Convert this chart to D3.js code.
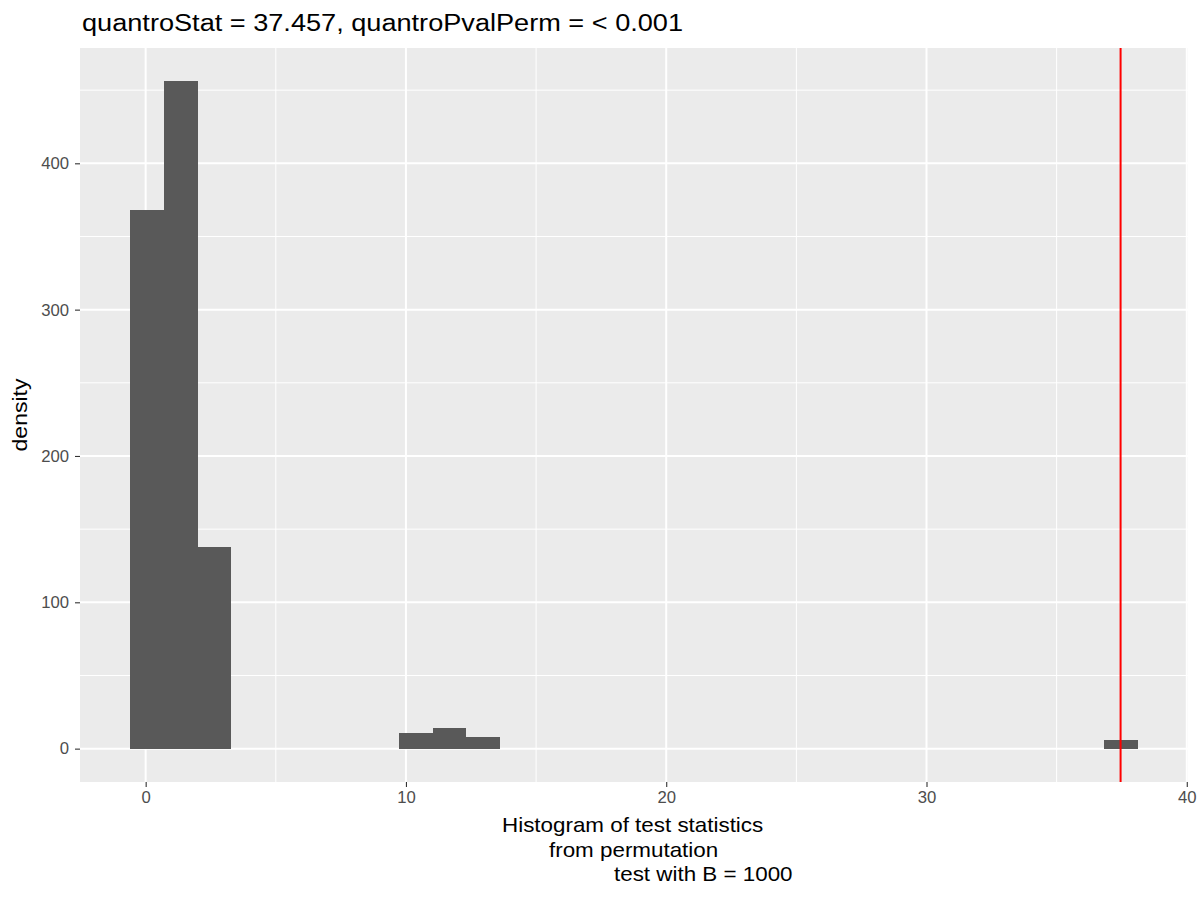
<!DOCTYPE html>
<html>
<head>
<meta charset="utf-8">
<script src="https://cdn.jsdelivr.net/npm/d3@7"></script>
<style>
body { margin: 0; background: #fff; }
text { font-family: "Liberation Sans", Arial, sans-serif; }
</style>
</head>
<body>
<div id="chart"></div>
<script>
// histogram bins (30 bins, width ~1.29), only non-empty ones listed
var binStart = -0.588, binWidth = 1.29;
var binIndex = [0, 1, 2, 8, 9, 10, 29];
var binCount = [368, 456, 138, 11, 14, 8, 6];
var observedStat = 37.457;
var xTicks = [0, 10, 20, 30, 40];
var xMinor = [5, 15, 25, 35];
var yTicks = [0, 100, 200, 300, 400];
var yMinor = [50, 150, 250, 350, 450];
var titleText = "quantroStat = 37.457, quantroPvalPerm = < 0.001";
var xLabelLines = ["Histogram of test statistics", "from permutation", "test with B = 1000"];

var W = 1200, H = 900;
var margin = {top: 48, right: 12, bottom: 118, left: 80},
    width = W - margin.left - margin.right,
    height = H - margin.top - margin.bottom;

var svg = d3.select("#chart").append("svg")
  .attr("width", W).attr("height", H);

var g = svg.append("g")
  .attr("transform", "translate(" + margin.left + "," + margin.top + ")");

var bins = binIndex.map(function(k, i) {
  return {x0: binStart + k * binWidth, x1: binStart + (k + 1) * binWidth, n: binCount[i]};
});

var xLo = binStart, xHi = binStart + 30 * binWidth;
var xPad = (xHi - xLo) * 0.05;
var x = d3.scaleLinear().domain([xLo - xPad, xHi + xPad]).range([0, width]);
var yMax = d3.max(binCount);
var y = d3.scaleLinear().domain([-yMax * 0.05, yMax * 1.05]).range([height, 0]);

// panel
g.append("rect").attr("width", width).attr("height", height).attr("fill", "#EBEBEB");

// minor grid
g.selectAll(".xminor").data(xMinor).enter().append("line")
  .attr("x1", d => x(d)).attr("x2", d => x(d)).attr("y1", 0).attr("y2", height)
  .attr("stroke", "#fff").attr("stroke-width", 1);
g.selectAll(".yminor").data(yMinor).enter().append("line")
  .attr("y1", d => y(d)).attr("y2", d => y(d)).attr("x1", 0).attr("x2", width)
  .attr("stroke", "#fff").attr("stroke-width", 1);
// major grid
g.selectAll(".xmajor").data(xTicks).enter().append("line")
  .attr("x1", d => x(d)).attr("x2", d => x(d)).attr("y1", 0).attr("y2", height)
  .attr("stroke", "#fff").attr("stroke-width", 2);
g.selectAll(".ymajor").data(yTicks).enter().append("line")
  .attr("y1", d => y(d)).attr("y2", d => y(d)).attr("x1", 0).attr("x2", width)
  .attr("stroke", "#fff").attr("stroke-width", 2);

// bars
g.selectAll(".bar").data(bins).enter().append("rect")
  .attr("x", d => x(d.x0))
  .attr("width", d => x(d.x1) - x(d.x0))
  .attr("y", d => y(d.n))
  .attr("height", d => y(0) - y(d.n))
  .attr("fill", "#595959")
  .attr("shape-rendering", "crispEdges");

// observed statistic
g.append("line")
  .attr("x1", x(observedStat)).attr("x2", x(observedStat))
  .attr("y1", 0).attr("y2", height)
  .attr("stroke", "red").attr("stroke-width", 2);

// axes
var xAxis = g.append("g").attr("transform", "translate(0," + height + ")")
  .call(d3.axisBottom(x).tickValues(xTicks).tickSize(5).tickPadding(4));
var yAxis = g.append("g")
  .call(d3.axisLeft(y).tickValues(yTicks).tickSize(5).tickPadding(6));
[xAxis, yAxis].forEach(function(a) {
  a.select(".domain").remove();
  a.selectAll(".tick line").attr("stroke", "#333333").attr("stroke-width", 1.1);
  a.selectAll(".tick text").attr("fill", "#4D4D4D").style("font-size", "16.7px")
    .style("font-family", "Liberation Sans, Arial, sans-serif");
});

// title
svg.append("text").attr("transform", "translate(82,30.5) scale(1.145,1)")
  .style("font-size", "23.7px").attr("fill", "#000").text(titleText);

// y label
svg.append("text")
  .attr("transform", "translate(27," + (margin.top + height / 2) + ") rotate(-90) scale(1.15,1)")
  .attr("text-anchor", "middle").style("font-size", "20px").text("density");

// x label (lines offset as in original)
var lineX = [502, 549, 614];
svg.selectAll(".xlab").data(xLabelLines).enter().append("text")
  .attr("transform", (d, i) => "translate(" + lineX[i] + "," + (832 + i * 24.5) + ") scale(1.12,1)")
  .style("font-size", "20px").text(d => d);
</script>
</body>
</html>
